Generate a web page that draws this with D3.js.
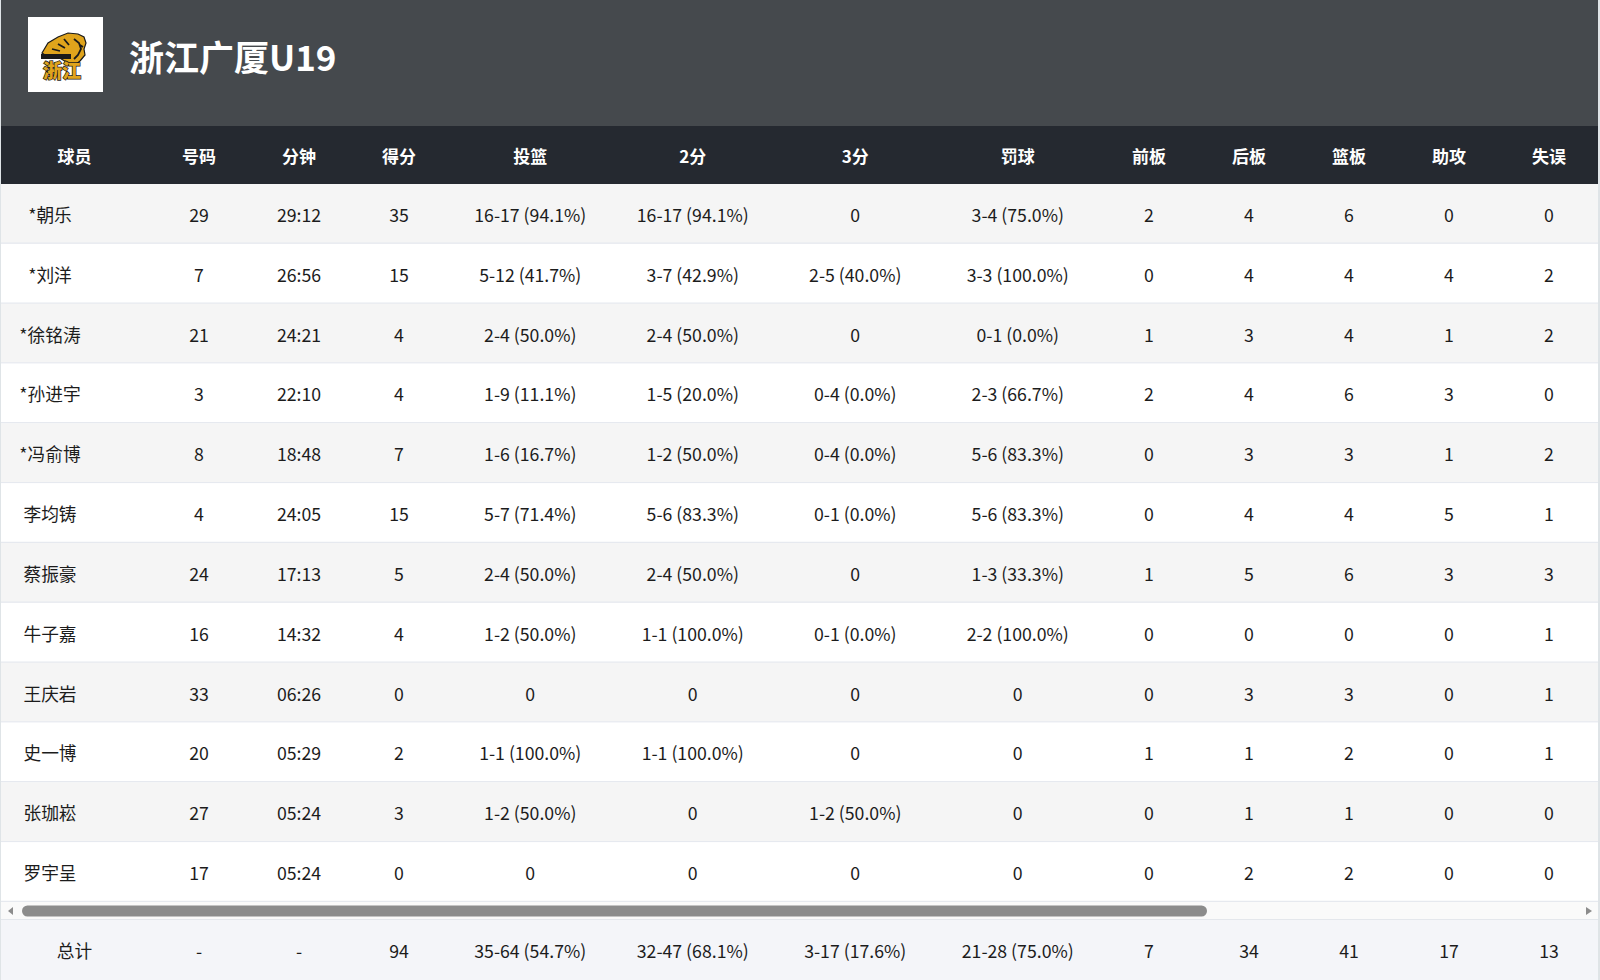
<!DOCTYPE html>
<html>
<head>
<meta charset="utf-8">
<script src="https://cdn.jsdelivr.net/npm/d3@7"></script>
<style>
  html, body { margin: 0; padding: 0; background: #dfe4e7; }
  svg { display: block; }
  text { font-family: "Noto Sans CJK SC", "Noto Sans", sans-serif; }
</style>
</head>
<body>
<script>
const w = 1600;
const h = 980;

const teamName = "浙江广厦U19";

const columns = ["球员", "号码", "分钟", "得分", "投篮", "2分", "3分", "罚球", "前板", "后板", "篮板", "助攻", "失误"];

const players = ["*朝乐", "*刘洋", "*徐铭涛", "*孙进宇", "*冯俞博", "李均铸", "蔡振豪", "牛子嘉", "王庆岩", "史一博", "张珈崧", "罗宇呈"];
const numbers = [29, 7, 21, 3, 8, 4, 24, 16, 33, 20, 27, 17];
const minutes = ["29:12", "26:56", "24:21", "22:10", "18:48", "24:05", "17:13", "14:32", "06:26", "05:29", "05:24", "05:24"];
const points = [35, 15, 4, 4, 7, 15, 5, 4, 0, 2, 3, 0];
const fieldGoals = ["16-17 (94.1%)", "5-12 (41.7%)", "2-4 (50.0%)", "1-9 (11.1%)", "1-6 (16.7%)", "5-7 (71.4%)", "2-4 (50.0%)", "1-2 (50.0%)", "0", "1-1 (100.0%)", "1-2 (50.0%)", "0"];
const twoPoints = ["16-17 (94.1%)", "3-7 (42.9%)", "2-4 (50.0%)", "1-5 (20.0%)", "1-2 (50.0%)", "5-6 (83.3%)", "2-4 (50.0%)", "1-1 (100.0%)", "0", "1-1 (100.0%)", "0", "0"];
const threePoints = ["0", "2-5 (40.0%)", "0", "0-4 (0.0%)", "0-4 (0.0%)", "0-1 (0.0%)", "0", "0-1 (0.0%)", "0", "0", "1-2 (50.0%)", "0"];
const freeThrows = ["3-4 (75.0%)", "3-3 (100.0%)", "0-1 (0.0%)", "2-3 (66.7%)", "5-6 (83.3%)", "5-6 (83.3%)", "1-3 (33.3%)", "2-2 (100.0%)", "0", "0", "0", "0"];
const offReb = [2, 0, 1, 2, 0, 0, 1, 0, 0, 1, 0, 0];
const defReb = [4, 4, 3, 4, 3, 4, 5, 0, 3, 1, 1, 2];
const rebounds = [6, 4, 4, 6, 3, 4, 6, 0, 3, 2, 1, 2];
const assists = [0, 4, 1, 3, 1, 5, 3, 0, 0, 0, 0, 0];
const turnovers = [0, 2, 2, 0, 2, 1, 3, 1, 1, 1, 0, 0];

const totals = ["总计", "-", "-", "94", "35-64 (54.7%)", "32-47 (68.1%)", "3-17 (17.6%)", "21-28 (75.0%)", "7", "34", "41", "17", "13"];

// table rows built from the arrays above
const rows = players.map(function (p, i) {
    return [p, numbers[i], minutes[i], points[i], fieldGoals[i], twoPoints[i],
        threePoints[i], freeThrows[i], offReb[i], defReb[i], rebounds[i], assists[i], turnovers[i]];
});

// layout
const colWidths = [149, 100, 100, 100, 162.5, 162.5, 162.5, 162.5, 100, 100, 100, 100, 100];
const left = 0;
const headTop = 126;
const headBottom = 184;
const bodyBottom = 902;
const barBottom = 920;

const edges = [left].concat(Array.from(d3.cumsum(colWidths), function (d) { return left + d; }));
const xScale = d3.scaleOrdinal()
    .domain(columns)
    .range(columns.map(function (c, i) { return (edges[i] + edges[i + 1]) / 2; }));

const yScale = d3.scaleBand()
    .domain(d3.range(rows.length))
    .range([headBottom, bodyBottom]);

const svg = d3.select("body").append("svg").attr("width", w).attr("height", h);

// page frame
svg.append("rect").attr("x", 1).attr("y", 0).attr("width", 1597).attr("height", h).attr("fill", "#ffffff");

// title band
svg.append("rect").attr("x", 1).attr("y", 0).attr("width", 1597).attr("height", headTop).attr("fill", "#45494d");

drawLogo(svg.append("g").attr("transform", "translate(28,17)"));

svg.append("text")
    .attr("x", 129)
    .attr("y", 55)
    .attr("dominant-baseline", "central")
    .attr("fill", "#ffffff")
    .attr("font-size", 35)
    .attr("font-weight", 700)
    .text(teamName);

// column header
svg.append("rect").attr("x", 1).attr("y", headTop).attr("width", 1597).attr("height", headBottom - headTop).attr("fill", "#252930");

svg.selectAll(".colhead")
    .data(columns)
    .enter()
    .append("text")
    .attr("class", "colhead")
    .attr("x", function (d) { return xScale(d); })
    .attr("y", (headTop + headBottom) / 2)
    .attr("text-anchor", "middle")
    .attr("dominant-baseline", "central")
    .attr("fill", "#ffffff")
    .attr("font-size", 17)
    .attr("font-weight", 700)
    .text(function (d) { return d; });

// body rows
const rowG = svg.selectAll(".row")
    .data(rows)
    .enter()
    .append("g")
    .attr("class", "row")
    .attr("transform", function (d, i) { return "translate(0," + yScale(i) + ")"; });

rowG.append("rect")
    .attr("x", 1)
    .attr("width", 1597)
    .attr("height", yScale.bandwidth())
    .attr("fill", function (d, i) { return i % 2 === 0 ? "#f5f5f5" : "#ffffff"; });

rowG.append("line")
    .attr("x1", 1)
    .attr("x2", 1598)
    .attr("y1", yScale.bandwidth() - 0.5)
    .attr("y2", yScale.bandwidth() - 0.5)
    .attr("stroke", "#e6e9ef")
    .attr("stroke-width", 1.5);

rowG.selectAll("text")
    .data(function (d) { return d; })
    .enter()
    .append("text")
    .attr("x", function (d, j) { return j === 0 ? 50 : xScale(columns[j]); })
    .attr("y", yScale.bandwidth() / 2)
    .attr("text-anchor", "middle")
    .attr("dominant-baseline", "central")
    .attr("fill", "#1c1c1c")
    .attr("font-size", 17.7)
    .text(function (d) { return d; });

// horizontal scrollbar
svg.append("rect").attr("x", 1).attr("y", bodyBottom).attr("width", 1597).attr("height", barBottom - bodyBottom).attr("fill", "#fafafa");
svg.append("line").attr("x1", 1).attr("x2", 1598).attr("y1", barBottom - 0.5).attr("y2", barBottom - 0.5).attr("stroke", "#e4e7ec");
svg.append("rect").attr("x", 22).attr("y", 905.5).attr("width", 1185).attr("height", 11).attr("rx", 5.5).attr("fill", "#8c8c8c");
svg.append("path").attr("d", "M8,911 L13,907 L13,915 Z").attr("fill", "#8c8c8c");
svg.append("path").attr("d", "M1592,911 L1586,907 L1586,915 Z").attr("fill", "#8c8c8c");

// totals row
svg.append("rect").attr("x", 1).attr("y", barBottom).attr("width", 1597).attr("height", h - barBottom).attr("fill", "#f4f5f9");

svg.selectAll(".total")
    .data(totals)
    .enter()
    .append("text")
    .attr("class", "total")
    .attr("x", function (d, j) { return xScale(columns[j]); })
    .attr("y", 950)
    .attr("text-anchor", "middle")
    .attr("dominant-baseline", "central")
    .attr("fill", "#1c1c1c")
    .attr("font-size", 17.7)
    .text(function (d) { return d; });

function drawLogo(g) {
    g.append("rect").attr("width", 75).attr("height", 75).attr("fill", "#ffffff");
    // tiger head, facing right
    g.append("path")
        .attr("d", "M14,36 L20,26 L30,20 L40,16 L50,17 L56,20 L58,26 L56,32 L57,38 L52,44 L47,48 L40,46 L30,40 L20,40 Z")
        .attr("fill", "#e0a41c")
        .attr("stroke", "#1a1a1a")
        .attr("stroke-width", 1.2);
    g.append("path")
        .attr("d", "M46,22 L51,26 L53,32 L50,38 L46,42 M36,22 L41,28 M30,27 L37,31 M24,32 L32,34 M52,28 L55,30")
        .attr("fill", "none")
        .attr("stroke", "#1a1a1a")
        .attr("stroke-width", 1.8);
    g.append("rect").attr("x", 13).attr("y", 37).attr("width", 30).attr("height", 5).attr("fill", "#1a1a1a");
    g.append("text")
        .attr("x", 34)
        .attr("y", 52)
        .attr("text-anchor", "middle")
        .attr("dominant-baseline", "central")
        .attr("font-size", 19)
        .attr("font-weight", 900)
        .attr("fill", "#e0a41c")
        .attr("stroke", "#1a1a1a")
        .attr("stroke-width", 1.4)
        .attr("paint-order", "stroke")
        .text("浙江");
}
</script>
</body>
</html>
